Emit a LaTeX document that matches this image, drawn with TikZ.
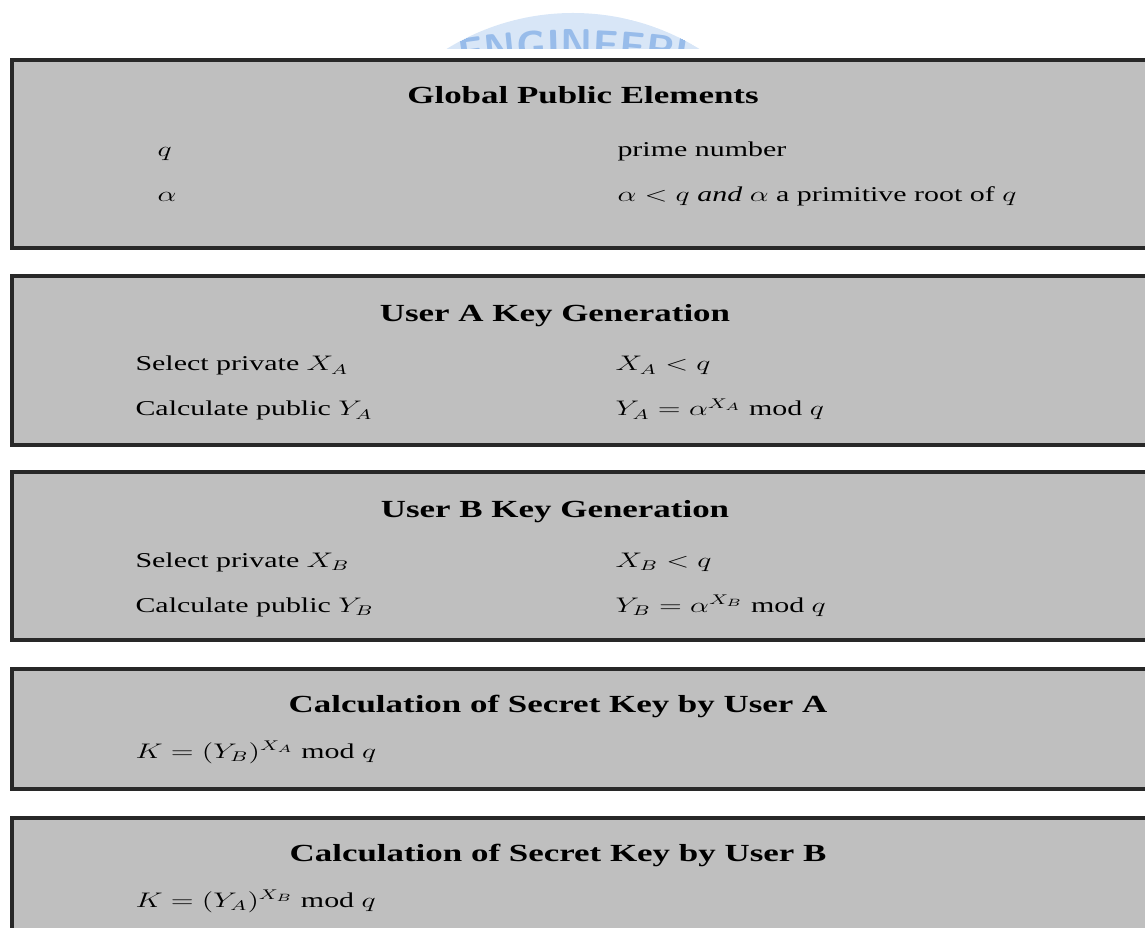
\documentclass[tikz,border=0pt]{standalone}
\usepackage{fontspec}
\setmainfont{Liberation Serif}
\usetikzlibrary{decorations.text}

\definecolor{panelgris}{RGB}{191,191,191}
\definecolor{bordegris}{RGB}{40,40,40}
\definecolor{marcaazul}{RGB}{216,230,247}
\definecolor{letraazul}{RGB}{152,188,234}

\tikzset{
	panel/.style={fill=panelgris, draw=bordegris, line width=1.8pt},
	titulo/.style={anchor=base, inner sep=0pt, xscale=1.42, font=\fontsize{14}{17}\selectfont\bfseries},
	campo/.style={anchor=base west, inner sep=0pt, xscale=1.42, font=\fontsize{12}{15}\selectfont},
}

\begin{document}
\begin{tikzpicture}[x=0.02cm, y=-0.02cm]
	% Marco de la pagina
	\useasboundingbox (0,0) rectangle (1145,928);
	\clip (0,0) rectangle (1145,928);
	% Marca de agua (cortada por el primer panel)
	\begin{scope}
		\clip (0,0) rectangle (1145,49);
		\clip (573,253) circle (240);
		\fill[marcaazul] (573,253) circle (240);
		\path[decorate, decoration={text along path, text color=letraazul, text align=center,
			text={|\sffamily\bfseries\fontsize{23}{23}\selectfont|ENGINEERI}}]
			(573,748) ++(-101:690) arc (-101:-79:690);
	\end{scope}
	% Panel 1: elementos publicos globales
	\draw[panel] (12,60) rectangle (1160,248);
	\node[titulo] (gpe) at (583,104) {Global Public Elements};
	\node[campo] (q) at (157,157) {$q$};
	\node[campo] (qdef) at (617,157) {prime number};
	\node[campo] (alfa) at (157,202) {$\alpha$};
	\node[campo] (alfadef) at (617,202) {$\alpha < q$ \textit{and} $\alpha$ a primitive root of $q$};
	% Panel 2: claves del usuario A
	\draw[panel] (12,276) rectangle (1160,445);
	\node[titulo] (genA) at (555,322) {User A Key Generation};
	\node[campo] (privA) at (135,371) {Select private $X_A$};
	\node[campo] (condA) at (615,371) {$X_A < q$};
	\node[campo] (pubA) at (135,416) {Calculate public $Y_A$};
	\node[campo] (formA) at (615,416) {$Y_A = \alpha^{X_A}$ mod $q$};
	% Panel 3: claves del usuario B
	\draw[panel] (12,472) rectangle (1160,640);
	\node[titulo] (genB) at (555,518) {User B Key Generation};
	\node[campo] (privB) at (135,567) {Select private $X_B$};
	\node[campo] (condB) at (615,567) {$X_B < q$};
	\node[campo] (pubB) at (135,612) {Calculate public $Y_B$};
	\node[campo] (formB) at (615,612) {$Y_B = \alpha^{X_B}$ mod $q$};
	% Panel 4: secreto calculado por A
	\draw[panel] (12,669) rectangle (1160,789);
	\node[titulo] (secA) at (558,712) {Calculation of Secret Key by User A};
	\node[campo] (claveA) at (135,758) {$K = (Y_B)^{X_A}$ mod $q$};
	% Panel 5: secreto calculado por B
	\draw[panel] (12,818) rectangle (1160,960);
	\node[titulo] (secB) at (558,861) {Calculation of Secret Key by User B};
	\node[campo] (claveB) at (135,907) {$K = (Y_A)^{X_B}$ mod $q$};
\end{tikzpicture}
\end{document}
